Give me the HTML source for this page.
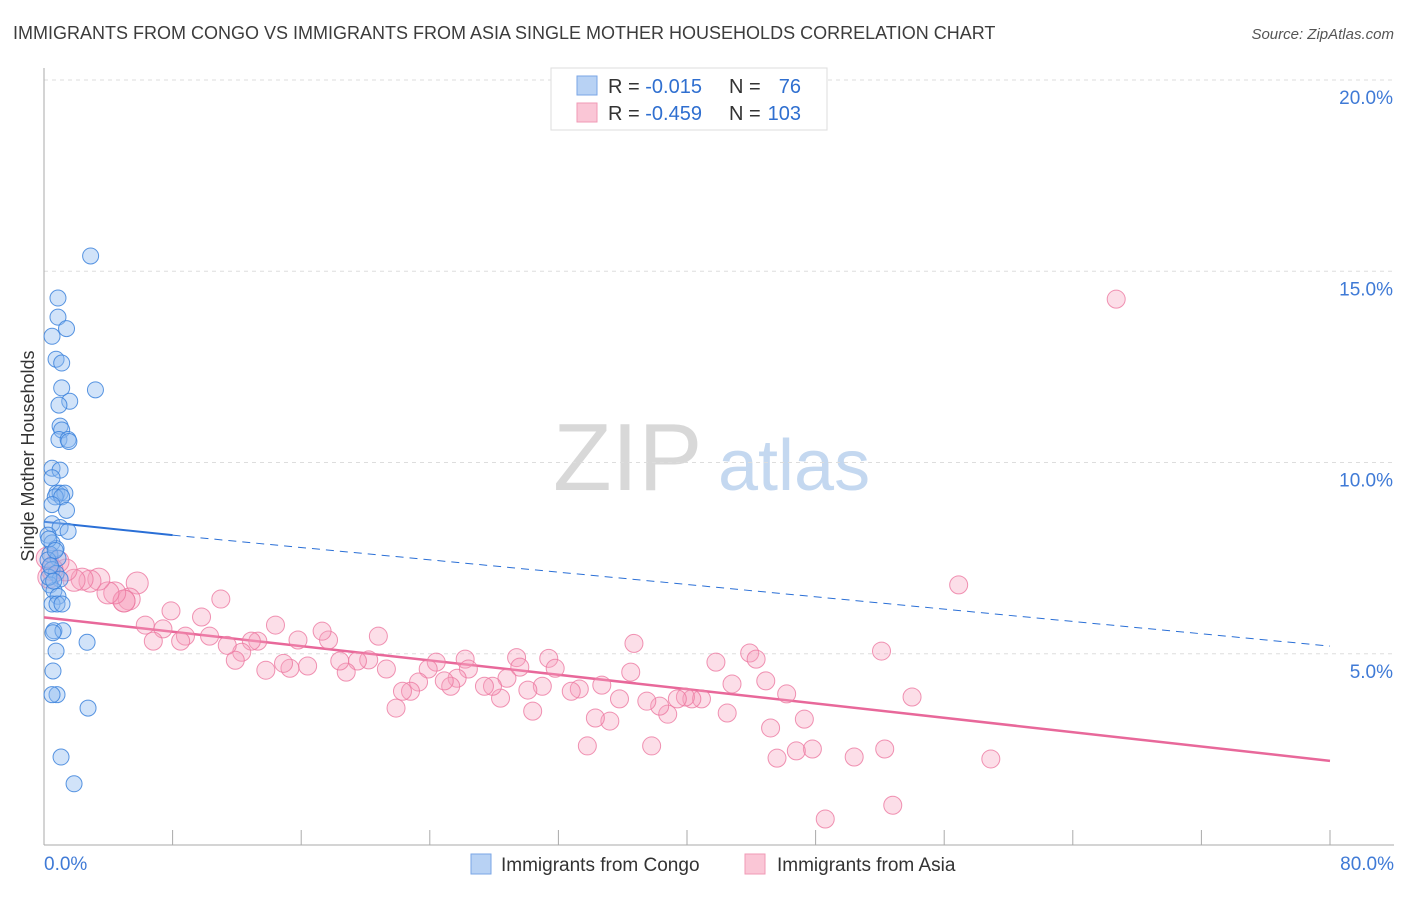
<!DOCTYPE html>
<html><head><meta charset="utf-8"><style>
body{margin:0;background:#fff;font-family:"Liberation Sans",sans-serif;}
svg text{font-family:"Liberation Sans",sans-serif;}
</style></head><body>
<svg id="chart" width="1406" height="892" xmlns="http://www.w3.org/2000/svg">
<text x="13" y="39" font-size="18" fill="#3c3c3c">IMMIGRANTS FROM CONGO VS IMMIGRANTS FROM ASIA SINGLE MOTHER HOUSEHOLDS CORRELATION CHART</text>
<text x="1394" y="39" font-size="15" fill="#555" text-anchor="end" font-style="italic">Source: ZipAtlas.com</text>
<g>
<text x="553" y="490" font-size="96" fill="#d8d8d8" font-family="Liberation Serif">ZIP</text>
<text x="718" y="490" font-size="72" fill="#c4d8f0">atlas</text>
</g>
<g id="grid"></g>
<g id="axes"></g>
<g id="lines"></g>
<g id="pts"></g>
<text transform="translate(34,456) rotate(-90)" font-size="18" fill="#333" text-anchor="middle">Single Mother Households</text>
<g>
<rect x="551" y="68" width="276" height="62" fill="#fff" stroke="#ddd"/>
<rect x="577" y="76" width="20" height="19" fill="#b8d2f4" stroke="#7aa6e6"/>
<rect x="577" y="103" width="20" height="19" fill="#fac6d6" stroke="#f09ab6"/>
<text x="608" y="93" font-size="20" fill="#333">R = <tspan fill="#2f6fd0">-0.015</tspan></text>
<text x="729" y="93" font-size="20" fill="#333">N = </text><text x="801" y="93" font-size="20" fill="#2f6fd0" text-anchor="end">76</text>
<text x="608" y="120" font-size="20" fill="#333">R = <tspan fill="#2f6fd0">-0.459</tspan></text>
<text x="729" y="120" font-size="20" fill="#333">N = </text><text x="801" y="120" font-size="20" fill="#2f6fd0" text-anchor="end">103</text>
</g>
<g>
<rect x="471" y="854" width="20" height="20" fill="#b8d2f4" stroke="#7aa6e6"/>
<text x="501" y="871" font-size="19" fill="#333">Immigrants from Congo</text>
<rect x="745" y="854" width="20" height="20" fill="#fac6d6" stroke="#f09ab6"/>
<text x="777" y="871" font-size="19" fill="#333">Immigrants from Asia</text>
</g>
</svg>
<script>
const yTicks=[5,10,15,20];
const yTickLabels=["5.0%","10.0%","15.0%","20.0%"];
const xTickLabels=["0.0%","80.0%"];
const congoX=[2.9,0.87,0.87,1.4,0.5,0.75,1.1,3.2,1.1,1.6,0.93,1.0,1.1,0.93,1.5,1.55,0.5,1.0,0.5,0.8,1.0,1.3,0.7,1.1,0.5,1.4,0.5,1.0,1.5,0.25,0.5,0.75,0.37,0.87,0.25,0.5,0.75,1.0,0.37,0.62,0.87,0.5,0.81,1.12,0.62,1.18,2.68,0.56,0.75,0.56,0.81,0.5,2.74,1.06,1.87,0.3,0.4,0.6,0.3,0.7];
const congoY=[15.4,14.3,13.8,13.5,13.3,12.7,12.6,11.9,11.95,11.6,11.5,10.95,10.85,10.6,10.6,10.55,9.85,9.8,9.6,9.2,9.2,9.2,9.1,9.1,8.9,8.75,8.4,8.3,8.2,8.1,7.9,7.75,7.6,7.5,7.45,7.2,7.1,6.95,6.8,6.65,6.5,6.3,6.3,6.3,5.6,5.6,5.3,5.55,5.07,4.55,3.93,3.93,3.58,2.3,1.6,7.0,7.3,6.9,8.0,7.7];
const asiaX=[66.7,56.9,52.1,54.0,58.9,52.8,48.6,50.4,52.3,47.8,46.8,45.6,45.2,47.3,46.2,44.9,43.9,44.3,41.8,42.8,42.5,40.9,40.3,39.9,39.4,38.8,37.8,38.3,37.5,36.7,36.5,35.8,35.2,33.8,34.3,34.7,33.3,32.8,31.4,31.8,31.0,30.1,30.4,29.4,29.6,28.8,28.4,27.9,27.4,26.2,26.4,25.7,25.3,24.9,24.4,23.9,23.3,22.8,22.3,21.9,21.3,20.8,20.2,19.5,18.8,18.4,17.7,17.3,16.4,15.8,15.3,14.9,14.4,13.8,13.3,12.9,12.3,11.9,11.4,10.3,9.8,8.8,8.5,7.9,7.4,6.8,6.3,5.8,5.3,4.98,4.98,4.4,3.98,3.41,2.86,2.37,1.87,1.37,0.87,0.5,11.0,0.3,0.2];
const asiaY=[14.27,6.8,5.07,3.87,2.25,1.04,0.68,2.3,2.51,2.51,2.46,2.27,3.06,3.29,3.95,4.29,5.02,4.86,4.78,4.21,3.45,3.82,3.82,3.87,3.82,3.42,2.59,3.63,3.76,5.27,4.52,3.82,3.24,2.59,3.32,4.18,4.08,4.02,4.88,4.62,4.15,4.05,3.5,4.9,4.65,4.36,3.84,4.15,4.15,4.86,4.6,4.36,4.15,4.29,4.78,4.6,4.26,4.02,4.02,3.58,4.6,5.46,4.84,4.81,4.52,4.81,5.36,5.59,4.68,5.36,4.62,4.75,5.75,4.57,5.33,5.33,5.04,4.83,5.22,5.46,5.96,5.46,5.33,6.12,5.65,5.33,5.75,6.85,6.43,6.38,6.38,6.59,6.59,6.95,6.9,6.95,6.92,7.19,7.41,7.2,6.43,7.0,7.5];
const congoLine={x0:0,y0:8.45,xs:8,ys:8.1,x1:80,y1:5.2};
const asiaLine={x0:0,y0:5.95,x1:80,y1:2.2};
const X=v=>44+v*1286/80, Y=v=>845-v*38.25;
const NS="http://www.w3.org/2000/svg";
function mk(tag,attrs,parent){const e=document.createElementNS(NS,tag);for(const k in attrs)e.setAttribute(k,attrs[k]);parent.appendChild(e);return e;}
const grid=document.getElementById('grid'),axes=document.getElementById('axes');
yTicks.forEach((t,i)=>{
 const l=mk('line',{x1:44,x2:1394,y1:Y(t),y2:Y(t),stroke:'#ddd','stroke-dasharray':'4,4'},grid);
 
 
 const tx=mk('text',{x:1393,y:Y(t)+24,'font-size':19,fill:'#3f7ad6','text-anchor':'end'},axes);
 tx.textContent=yTickLabels[i];
 
 
});
const ya=mk('line',{x1:44,x2:44,y1:68,y2:845,stroke:'#aaa'},axes);


const xa=mk('line',{x1:44,x2:1394,y1:845,y2:845,stroke:'#aaa'},axes);


for(let i=1;i<=10;i++){const t=mk('line',{x1:X(i*8),x2:X(i*8),y1:830,y2:845,stroke:'#aaa'},axes);
 
 }
[[0,'start',44],[80,'end',1394]].forEach((p,i)=>{const t=mk('text',{x:p[2],y:870,'font-size':19,fill:'#3f7ad6','text-anchor':p[1]},axes);t.textContent=xTickLabels[i];
 
 });
const pts=document.getElementById('pts'),lines=document.getElementById('lines');
asiaX.forEach((x,i)=>{const c=mk('circle',{cx:X(x),cy:Y(asiaY[i]),r:x<6?11:9,fill:'rgba(246,160,188,0.35)',stroke:'rgba(236,120,160,0.8)','stroke-width':1},pts);
 
 });
congoX.forEach((x,i)=>{const c=mk('circle',{cx:X(x),cy:Y(congoY[i]),r:8,fill:'rgba(140,185,240,0.4)',stroke:'rgba(60,130,220,0.85)','stroke-width':1},pts);
 
 });
const l1=mk('line',{x1:X(congoLine.x0),y1:Y(congoLine.y0),x2:X(congoLine.xs),y2:Y(congoLine.ys),stroke:'#2a6fd6','stroke-width':2},lines);


const l2=mk('line',{x1:X(congoLine.xs),y1:Y(congoLine.ys),x2:X(congoLine.x1),y2:Y(congoLine.y1),stroke:'#2a6fd6','stroke-width':1,'stroke-dasharray':'8,6'},lines);


const l3=mk('line',{x1:X(asiaLine.x0),y1:Y(asiaLine.y0),x2:X(asiaLine.x1),y2:Y(asiaLine.y1),stroke:'#e8689a','stroke-width':2.5},lines);


</script>
</body></html>
